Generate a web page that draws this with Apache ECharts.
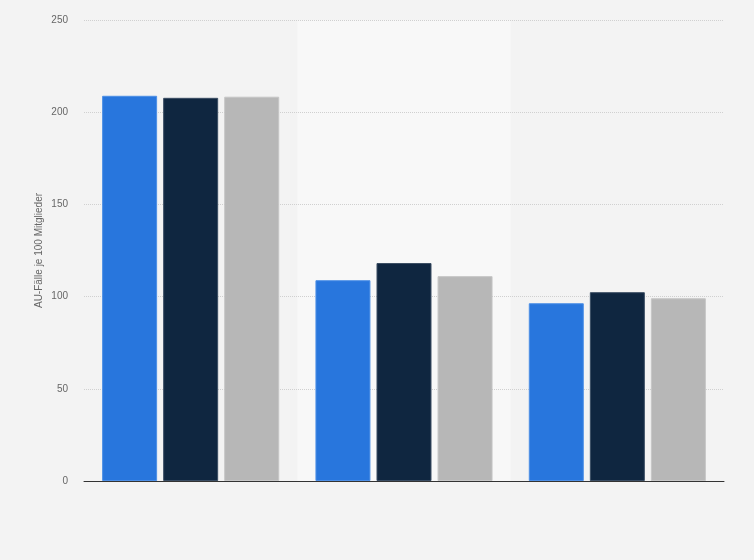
<!DOCTYPE html>
<html>
<head>
<meta charset="utf-8">
<script src="https://cdn.jsdelivr.net/npm/echarts@6/dist/echarts.min.js"></script>
<style>
  html, body { margin: 0; padding: 0; background: #f3f3f3; }
  #chart { width: 754px; height: 560px; }
</style>
</head>
<body>
<div id="chart"></div>
<script>
// Werte
var categories = ['Gruppe 1', 'Gruppe 2', 'Gruppe 3'];
var serie1 = [208.9, 108.9, 96.4];   // blau
var serie2 = [207.8, 118.2, 102.4];  // dunkelblau
var serie3 = [208.4, 111.1, 99.1];   // grau
var yTicks = [0, 50, 100, 150, 200, 250];

var myChart = echarts.init(document.getElementById('chart'));

function barSeries(name, data, color, border) {
    return {
        name: name,
        type: 'bar',
        data: data,
        barWidth: 55,
        barGap: '11%',
        itemStyle: {
            color: color,
            borderColor: border,
            borderWidth: 1
        }
    };
}

var option = {
    backgroundColor: '#f3f3f3',
    animation: false,
    textStyle: { fontFamily: 'Liberation Sans, Arial, sans-serif' },
    grid: {
        left: 84,
        right: 30,
        top: 20,
        bottom: 79
    },
    xAxis: {
        type: 'category',
        data: categories,
        z: 0,
        axisLine: { lineStyle: { color: '#333', width: 1 } },
        axisTick: { show: false },
        axisLabel: { show: false },
        splitArea: {
            show: true,
            areaStyle: { color: ['rgba(0,0,0,0)', '#f8f8f8'] }
        }
    },
    yAxis: {
        type: 'value',
        z: 1,
        min: yTicks[0],
        max: yTicks[yTicks.length - 1],
        interval: 50,
        name: 'AU-Fälle je 100 Mitglieder',
        nameLocation: 'middle',
        nameGap: 40,
        nameMoveOverlap: false,
        nameTextStyle: { color: '#666', fontSize: 10 },
        axisLine: { show: false },
        axisTick: { show: false },
        axisLabel: { color: '#666', fontSize: 10, margin: 16 },
        splitLine: {
            showMinLine: false,
            lineStyle: { color: '#d0d0d0', type: [1, 1], width: 1 }
        }
    },
    series: [
        barSeries('Serie 1', serie1, '#2876dd', '#4d8fe6'),
        barSeries('Serie 2', serie2, '#0f2640', '#3a4d63'),
        barSeries('Serie 3', serie3, '#b7b7b7', '#c6c6c6')
    ]
};

myChart.setOption(option);
</script>
</body>
</html>
